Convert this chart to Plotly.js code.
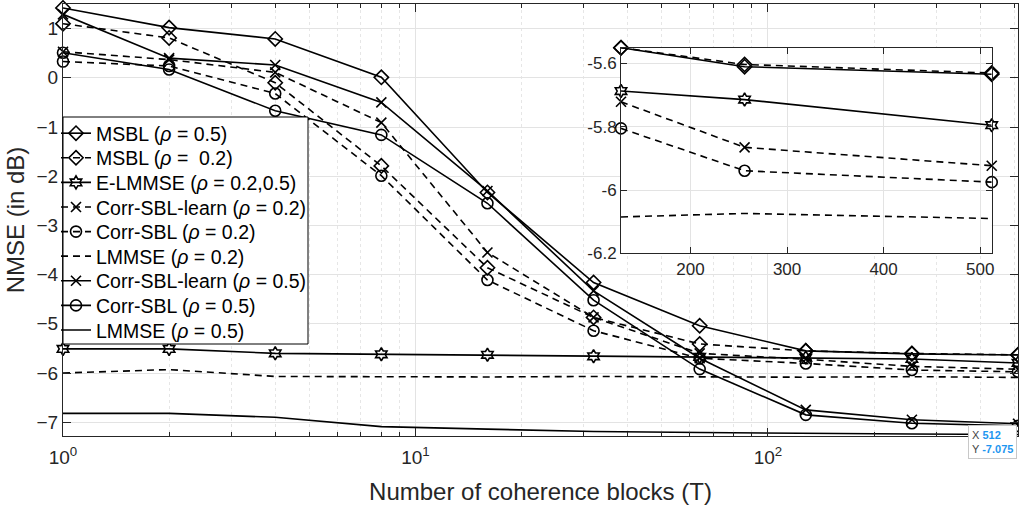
<!DOCTYPE html>
<html><head><meta charset="utf-8">
<script src="https://cdn.plot.ly/plotly-3.0.1.min.js"></script>
<style>html,body{margin:0;padding:0;background:#fff}</style>
</head><body><div id="chart" style="width:1019px;height:510px"></div>
<script>
// ---- data ----
const T = [1, 2, 4, 8, 16, 32, 64, 128, 256, 512];
const msbl05   = [1.42, 1.02, 0.79, 0.01, -2.33, -4.16, -5.04, -5.55, -5.61, -5.634];
const msbl02   = [1.10, 0.81, -0.10, -1.79, -3.86, -4.87, -5.41, -5.55, -5.603, -5.63];
const elmmse   = [-5.51, -5.51, -5.60, -5.62, -5.63, -5.66, -5.67, -5.687, -5.714, -5.795];
const cslearn02 = [0.53, 0.37, 0.11, -0.91, -3.55, -4.87, -5.60, -5.721, -5.865, -5.923];
const csbl02   = [0.33, 0.24, -0.32, -1.99, -4.11, -5.14, -5.70, -5.805, -5.939, -5.975];
const lmmse02  = [-6.00, -5.93, -6.07, -6.08, -6.08, -6.07, -6.08, -6.085, -6.074, -6.09];
const cslearn05 = [1.29, 0.40, 0.26, -0.50, -2.30, -4.33, -5.70, -6.75, -6.95, -7.03];
const csbl05   = [0.51, 0.17, -0.67, -1.16, -2.55, -4.52, -5.92, -6.85, -7.02, -7.075];
const lmmse05  = [-6.82, -6.82, -6.90, -7.09, -7.14, -7.19, -7.21, -7.23, -7.24, -7.25];

const seriesNames = [
  'MSBL (<i>ρ</i> = 0.5)', 'MSBL (<i>ρ</i> =  0.2)', 'E-LMMSE (<i>ρ</i> = 0.2,0.5)',
  'Corr-SBL-learn (<i>ρ</i> = 0.2)', 'Corr-SBL (<i>ρ</i> = 0.2)', 'LMMSE (<i>ρ</i> = 0.2)',
  'Corr-SBL-learn (<i>ρ</i> = 0.5)', 'Corr-SBL (<i>ρ</i> = 0.5)', 'LMMSE (<i>ρ</i> = 0.5)'
];
const seriesValues = [msbl05, msbl02, elmmse, cslearn02, csbl02, lmmse02, cslearn05, csbl05, lmmse05];
const xTickVals = [1, 10, 100];
const xTickText = ['10<sup>0</sup>', '10<sup>1</sup>', '10<sup>2</sup>'];
const insetXTicks = [200, 300, 400, 500];
const insetYTicks = [-5.6, -5.8, -6, -6.2];
const insetYText = ['-5.6', '-5.8', '-6', '-6.2'];

// ---- styles ----
const DASH = '7px,5px';
const styles = [
  {dash: 'solid', symbol: 'diamond-open', size: 11},
  {dash: DASH, symbol: 'diamond-open', size: 11},
  {dash: 'solid', symbol: 'hexagram-open', size: 10},
  {dash: DASH, symbol: 'x-thin-open', size: 10},
  {dash: DASH, symbol: 'circle-open', size: 11},
  {dash: DASH, symbol: null},
  {dash: 'solid', symbol: 'x-thin-open', size: 10},
  {dash: 'solid', symbol: 'circle-open', size: 11},
  {dash: 'solid', symbol: null}
];

const FONT = 'Liberation Sans, Arial, Helvetica, sans-serif';
const AX = '#262626';
const GRID = '#e3e3e3';

// plot-area geometry in pixels (for paper-coordinate conversions)
const W = 1019, H = 510, ML = 63, MR = 1, MT = 4, MB = 74;
const PW = W - ML - MR, PH = H - MT - MB;
const px2x = p => (p - ML) / PW;
const px2y = p => (H - MB - p) / PH;

const legendKey = i => (i === 0 ? 'legend' : 'legend' + (i + 1));

const traces = [];
seriesValues.forEach((vals, i) => {
  const s = styles[i];
  const tr = {
    type: 'scatter',
    mode: s.symbol ? 'lines+markers' : 'lines',
    line: {color: '#000', width: 1.6, dash: s.dash},
    cliponaxis: false, hoverinfo: 'skip',
    x: T, y: vals, name: seriesNames[i], xaxis: 'x', yaxis: 'y',
    legend: legendKey(i)
  };
  if (s.symbol) tr.marker = {symbol: s.symbol, size: s.size, color: '#000', line: {color: '#000', width: 1.6}};
  traces.push(tr);
});
// inset: T >= 128
seriesValues.forEach((vals, i) => {
  if (i === 8) return; // entirely outside inset range
  const s = styles[i];
  const tr = {
    type: 'scatter',
    mode: s.symbol ? 'lines+markers' : 'lines',
    line: {color: '#000', width: 1.6, dash: s.dash},
    x: T.slice(7), y: vals.slice(7),
    xaxis: 'x2', yaxis: 'y2', showlegend: false, hoverinfo: 'skip',
    cliponaxis: false
  };
  if (s.symbol) tr.marker = {symbol: s.symbol, size: s.size, color: '#000', line: {color: '#000', width: 1.6}};
  traces.push(tr);
});

const minorVals = [];
[1, 10, 100].forEach(d => { for (let k = 2; k <= 9; k++) { if (k * d <= 512) minorVals.push(k * d); } });

const layout = {
  width: W, height: H,
  margin: {l: ML, r: MR, t: MT, b: MB},
  paper_bgcolor: '#fff', plot_bgcolor: '#fff',
  font: {family: FONT, color: AX, size: 19},
  showlegend: true,
  xaxis: {
    type: 'log', range: [0, Math.log10(512)],
    tickmode: 'array', tickvals: xTickVals, ticktext: xTickText,
    ticks: 'inside', ticklen: 8, tickcolor: AX, mirror: 'allticks',
    showline: true, linecolor: AX, linewidth: 1,
    showgrid: true, gridcolor: GRID, zeroline: false,
    minor: {tickmode: 'array', tickvals: minorVals, ticks: 'inside', ticklen: 4, tickcolor: AX,
            showgrid: true, gridcolor: '#e6e6e6', griddash: 'dot'},
    tickfont: {size: 19, color: AX}, ticklabelstandoff: 4,
    title: {text: 'Number of coherence blocks (T)', font: {size: 24, color: AX}, standoff: 16},
    automargin: false
  },
  yaxis: {
    range: [-7.28, 1.5], tickmode: 'linear', tick0: 0, dtick: 1,
    ticks: 'inside', ticklen: 8, tickcolor: AX, mirror: 'allticks',
    showline: true, linecolor: AX, linewidth: 1,
    showgrid: true, gridcolor: GRID, zeroline: false,
    tickfont: {size: 19, color: AX},
    title: {text: 'NMSE (in dB)', font: {size: 24, color: AX}, standoff: 5},
    automargin: false
  },
  xaxis2: {
    domain: [0.5843, 0.9725], anchor: 'y2', range: [128, 512],
    tickmode: 'array', tickvals: insetXTicks,
    ticks: 'inside', ticklen: 6, tickcolor: AX, mirror: 'allticks',
    showline: true, linecolor: AX, linewidth: 1,
    showgrid: true, gridcolor: GRID, zeroline: false,
    tickfont: {size: 17, color: AX}
  },
  yaxis2: {
    domain: [0.4229, 0.8988], anchor: 'x2', range: [-6.2, -5.55],
    tickmode: 'array', tickvals: insetYTicks, ticktext: insetYText,
    ticks: 'inside', ticklen: 6, tickcolor: AX, mirror: 'allticks',
    showline: true, linecolor: AX, linewidth: 1,
    showgrid: true, gridcolor: GRID, zeroline: false,
    tickfont: {size: 17, color: AX}
  },
  shapes: [{
    type: 'rect', xref: 'paper', yref: 'paper', layer: 'above',
    x0: px2x(63), x1: px2x(308), y0: px2y(344), y1: px2y(117),
    fillcolor: '#fff', line: {color: '#000', width: 1}
  }],
  annotations: [{
    xref: 'paper', yref: 'paper', x: 0.999, y: 0.0255, xanchor: 'right', yanchor: 'top',
    text: 'X <span style="color:#1e96f0"><b>512</b></span><br>Y <span style="color:#1e96f0"><b>-7.075</b></span>',
    showarrow: false, align: 'left', font: {size: 11, color: '#444', family: FONT},
    bgcolor: '#fff', bordercolor: '#c8c8c8', borderwidth: 1, borderpad: 3
  }]
};

// one single-entry legend per series, stacked with MATLAB-like row spacing
const ROW0 = 133.5, ROWSTEP = 24.6;
seriesNames.forEach((_, i) => {
  layout[legendKey(i)] = {
    x: px2x(56), y: px2y(ROW0 + i * ROWSTEP), xanchor: 'left', yanchor: 'middle',
    bgcolor: 'rgba(0,0,0,0)', borderwidth: 0,
    font: {family: FONT, size: 19.5, color: '#000'},
    itemwidth: 30
  };
});

Plotly.newPlot('chart', traces, layout, {displayModeBar: false, staticPlot: true});
</script>
</body></html>
